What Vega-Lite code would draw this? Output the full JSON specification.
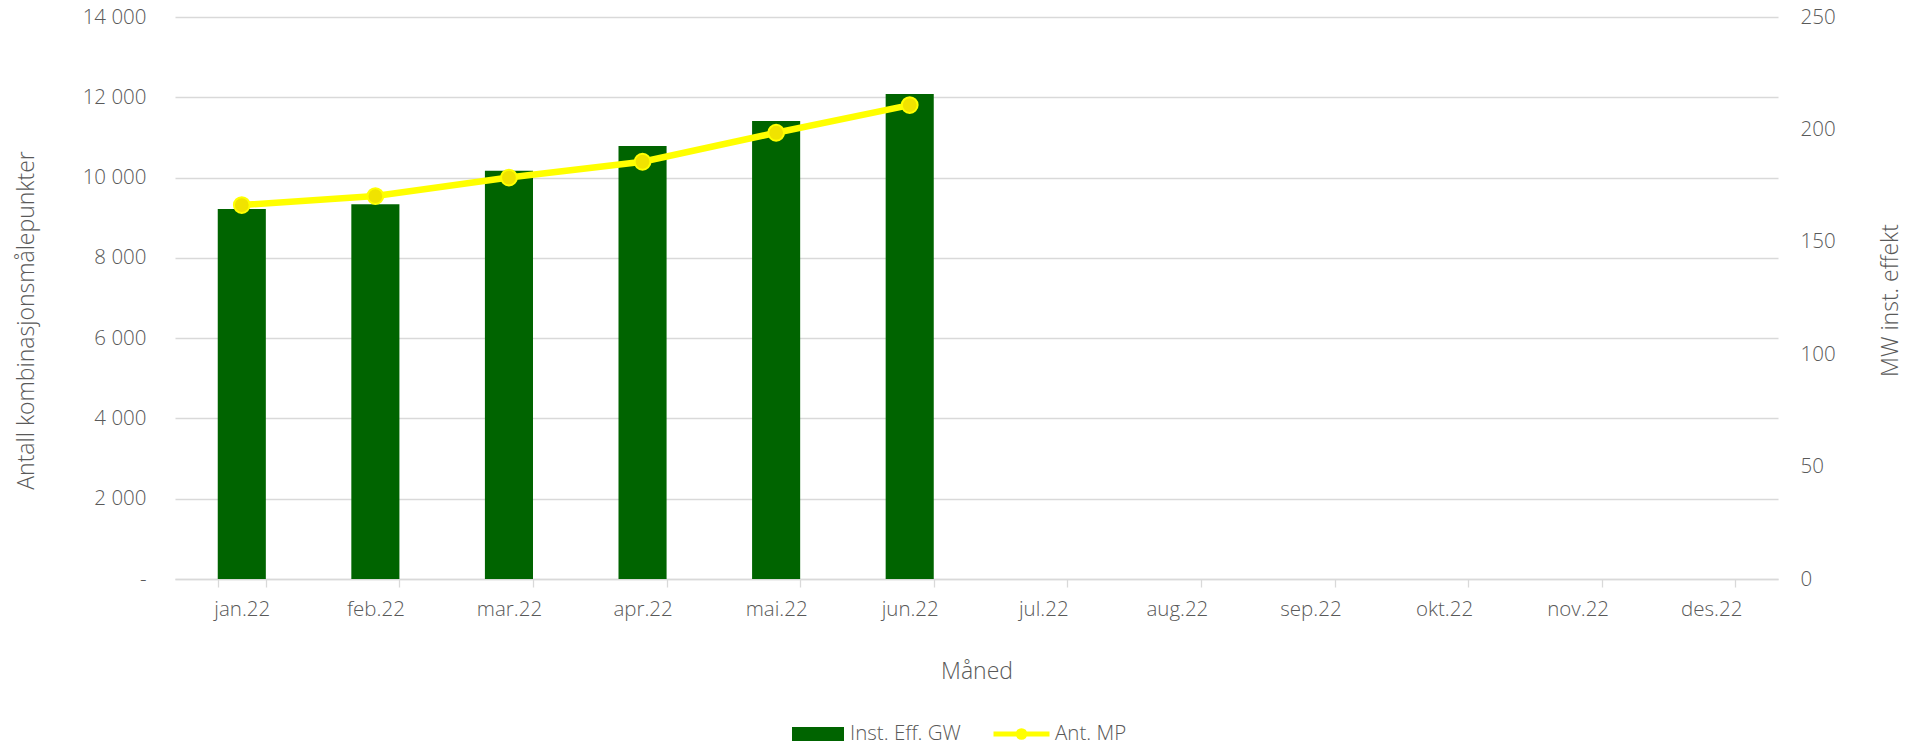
{
  "$schema": "https://vega.github.io/schema/vega-lite/v6.json",
  "width": 1603,
  "height": 562,
  "autosize": {"type": "none"},
  "padding": {"left": 175, "top": 17, "right": 138, "bottom": 166},
  "background": "white",
  "config": {
    "view": {"stroke": null},
    "font": "Open Sans",
    "axis": {
      "labelFont": "Open Sans",
      "labelFontSize": 20.5,
      "labelFontWeight": 300,
      "labelColor": "#595959",
      "titleFont": "Open Sans",
      "titleFontSize": 23,
      "titleFontWeight": 300,
      "titleColor": "#595959"
    },
    "legend": {
      "labelFont": "Open Sans",
      "labelFontSize": 20.5,
      "labelFontWeight": 300,
      "labelColor": "#595959"
    }
  },
  "data": {
    "values": [
      {"month": "jan.22", "mw": 164.6, "mp": 9315},
      {"month": "feb.22", "mw": 166.7, "mp": 9539},
      {"month": "mar.22", "mw": 181.6, "mp": 10000},
      {"month": "apr.22", "mw": 192.6, "mp": 10394},
      {"month": "mai.22", "mw": 203.7, "mp": 11116},
      {"month": "jun.22", "mw": 215.7, "mp": 11806},
      {"month": "jul.22", "mw": null, "mp": null},
      {"month": "aug.22", "mw": null, "mp": null},
      {"month": "sep.22", "mw": null, "mp": null},
      {"month": "okt.22", "mw": null, "mp": null},
      {"month": "nov.22", "mw": null, "mp": null},
      {"month": "des.22", "mw": null, "mp": null}
    ]
  },
  "encoding": {
    "x": {
      "field": "month",
      "type": "nominal",
      "scale": {
        "domain": ["jan.22", "feb.22", "mar.22", "apr.22", "mai.22", "jun.22", "jul.22", "aug.22", "sep.22", "okt.22", "nov.22", "des.22"],
        "paddingInner": 0.64,
        "paddingOuter": 0.32
      },
      "axis": {
        "title": "Måned",
        "labelAngle": 0,
        "labelPadding": 12,
        "tickBand": "extent",
        "tickSize": 8,
        "tickColor": "#d9d9d9",
        "tickWidth": 1.3,
        "domainColor": "#d9d9d9",
        "domainWidth": 1.3,
        "grid": false,
        "titleBaseline": "alphabetic",
        "titleY": 99
      }
    }
  },
  "layer": [
    {
      "mark": {"type": "bar", "color": "#006400"},
      "encoding": {
        "y": {
          "field": "mw",
          "type": "quantitative",
          "scale": {"domain": [0, 250], "nice": false},
          "axis": {
            "orient": "right",
            "title": "MW inst. effekt",
            "values": [0, 50, 100, 150, 200, 250],
            "grid": false,
            "domain": false,
            "ticks": false,
            "labelPadding": 22,
            "titleAngle": -90,
            "titleBaseline": "alphabetic",
            "titleX": 119,
            "titleY": 283
          }
        },
        "fill": {
          "datum": "Inst. Eff. GW",
          "type": "nominal",
          "scale": {"range": ["#006400"]},
          "legend": {
            "orient": "none",
            "legendX": 617,
            "legendY": 691,
            "title": null,
            "padding": 0,
            "symbolType": "M-1,-0.27H1V0.27H-1Z",
            "symbolSize": 2704,
            "symbolStrokeWidth": 0,
            "labelOffset": 6
          }
        }
      }
    },
    {
      "encoding": {
        "y": {
          "field": "mp",
          "type": "quantitative",
          "scale": {"domain": [0, 14000], "nice": false},
          "axis": {
            "orient": "left",
            "title": "Antall kombinasjonsmålepunkter",
            "values": [0, 2000, 4000, 6000, 8000, 10000, 12000, 14000],
            "labelExpr": "datum.value == 0 ? '-\u00a0\u00a0' : replace(format(datum.value, ','), ',', ' ')",
            "grid": true,
            "gridColor": "#d9d9d9",
            "gridWidth": 1.3,
            "domain": false,
            "ticks": false,
            "labelPadding": 29,
            "titleAngle": -90,
            "titleBaseline": "alphabetic",
            "titleX": -142,
            "titleY": 303
          }
        }
      },
      "layer": [
        {
          "mark": {"type": "line", "strokeWidth": 6.5, "strokeCap": "round"},
          "encoding": {
            "stroke": {
              "datum": "Ant. MP",
              "type": "nominal",
              "scale": {"range": ["#ffff00"]},
              "legend": {
                "orient": "none",
                "legendX": 816,
                "legendY": 686.5,
                "title": null,
                "padding": 0,
                "symbolType": "M-1,0H1M-0.12,0A0.12,0.12 0 1,0 0.12,0A0.12,0.12 0 1,0 -0.12,0Z",
                "symbolSize": 3136,
                "symbolStrokeWidth": 5,
                "labelOffset": 3,
                "encode": {
                  "symbols": {
                    "update": {
                      "fill": {"value": "#f0e300"},
                      "stroke": {"value": "#ffff00"},
                      "strokeWidth": {"value": 5}
                    }
                  }
                }
              }
            }
          }
        },
        {
          "mark": {"type": "point", "filled": true, "size": 250, "fill": "#f0e300", "stroke": "#ffff00", "strokeWidth": 2, "opacity": 1}
        }
      ]
    }
  ],
  "resolve": {"scale": {"y": "independent"}}
}
